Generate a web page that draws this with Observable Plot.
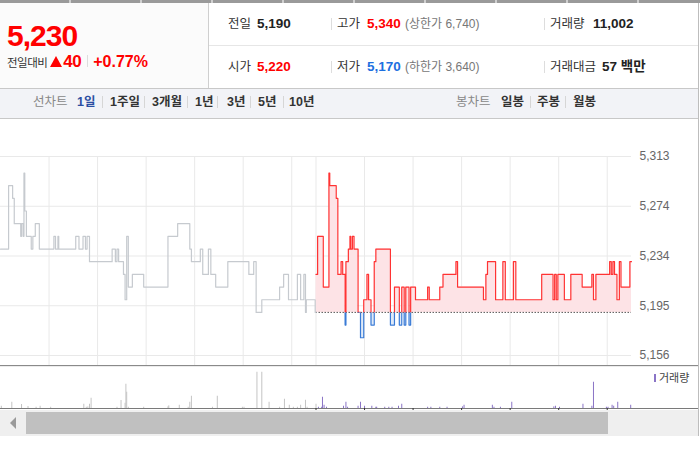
<!DOCTYPE html>
<html><head><meta charset="utf-8">
<script src="https://cdn.jsdelivr.net/npm/d3@7"></script>
<script src="https://cdn.jsdelivr.net/npm/@observablehq/plot@0.6"></script>
<style>
body{margin:0;background:#fff;font-family:"Liberation Sans","Noto Sans CJK KR",sans-serif;}
#w{position:relative;width:700px;height:450px;overflow:hidden;}
.a{position:absolute;white-space:nowrap;}
.r1{top:14px;height:20px;line-height:20px;}
.r2{top:57px;height:20px;line-height:20px;}
.lb{font-size:12.5px;color:#333;}
.nm{font-size:13.5px;font-weight:bold;color:#222;}
.lim{font-size:12px;color:#777;}
.sep{position:absolute;width:1px;background:#ddd;}
.nv{top:92px;height:20px;line-height:20px;font-size:12.5px;font-weight:bold;color:#333;}
.nsep{position:absolute;top:96px;height:12px;width:1px;background:#d6d6d6;}
</style></head><body><div id="w">
<!-- top strip -->
<div class="a" style="left:0;top:0;width:700px;height:3px;background:repeating-linear-gradient(90deg,#9a9a9a 0 69px,#cfcfcf 69px 71px);"></div>
<!-- header -->
<div class="a" style="left:0;top:3px;width:208px;height:85px;background:#fbfbfb;"></div>
<div class="a" style="left:208px;top:3px;width:1px;height:85px;background:#cfcfcf;"></div>
<div class="a" style="left:209px;top:45px;width:490px;height:1px;background:#e6e6e6;"></div>
<div class="a" style="left:0;top:88px;width:699px;height:1px;background:#c8c8c8;"></div>
<div class="a" style="left:7px;top:21px;font-size:30px;line-height:30px;font-weight:bold;color:#f00;letter-spacing:-1px;">5,230</div>
<div class="a" style="left:7px;top:52px;display:flex;align-items:baseline;">
  <span style="font-size:11.5px;color:#333;letter-spacing:-0.5px;">전일대비</span>
  <span style="display:inline-block;width:0;height:0;border-left:6px solid transparent;border-right:6px solid transparent;border-bottom:11px solid #f00;margin:0 1px 0 3px;"></span>
  <span style="font-size:17px;font-weight:bold;color:#f00;letter-spacing:-0.5px;">40</span>
  <span style="display:inline-block;width:1px;height:12px;background:#ddd;margin:0 5px 0 6px;"></span>
  <span style="font-size:16px;font-weight:bold;color:#f00;">+0.77%</span>
</div>
<span class="a r1 lb" style="left:228px;">전일</span>
<span class="a r1 nm" style="left:257px;">5,190</span>
<div class="sep" style="left:331px;top:18px;height:12px;"></div>
<span class="a r1 lb" style="left:337px;">고가</span>
<span class="a r1 nm" style="left:367px;color:#f00;">5,340</span>
<span class="a r1 lim" style="left:405px;">(상한가 6,740)</span>
<div class="sep" style="left:544px;top:18px;height:12px;"></div>
<span class="a r1 lb" style="left:550px;">거래량</span>
<span class="a r1 nm" style="left:593px;">11,002</span>
<span class="a r2 lb" style="left:228px;">시가</span>
<span class="a r2 nm" style="left:257px;color:#f00;">5,220</span>
<div class="sep" style="left:331px;top:61px;height:12px;"></div>
<span class="a r2 lb" style="left:337px;">저가</span>
<span class="a r2 nm" style="left:367px;color:#1d6fe0;">5,170</span>
<span class="a r2 lim" style="left:405px;">(하한가 3,640)</span>
<div class="sep" style="left:544px;top:61px;height:12px;"></div>
<span class="a r2 lb" style="left:550px;">거래대금</span>
<span class="a r2 nm" style="left:602px;">57 백만</span>
<!-- nav -->
<div class="a" style="left:0;top:89px;width:699px;height:29px;background:#f2f3f7;border-bottom:1px solid #c8c8c8;"></div>
<span class="a nv" style="left:33px;font-weight:normal;color:#888;">선차트</span>
<span class="a nv" style="left:77px;color:#2b4ea2;">1일</span>
<div class="nsep" style="left:102px;"></div>
<span class="a nv" style="left:110px;">1주일</span>
<div class="nsep" style="left:144px;"></div>
<span class="a nv" style="left:152px;">3개월</span>
<div class="nsep" style="left:187px;"></div>
<span class="a nv" style="left:195px;">1년</span>
<div class="nsep" style="left:217px;"></div>
<span class="a nv" style="left:227px;">3년</span>
<div class="nsep" style="left:250px;"></div>
<span class="a nv" style="left:258px;">5년</span>
<div class="nsep" style="left:283px;"></div>
<span class="a nv" style="left:289px;">10년</span>
<span class="a nv" style="left:456px;font-weight:normal;color:#888;">봉차트</span>
<span class="a nv" style="left:501px;">일봉</span>
<div class="nsep" style="left:530px;"></div>
<span class="a nv" style="left:537px;">주봉</span>
<div class="nsep" style="left:565px;"></div>
<span class="a nv" style="left:573px;">월봉</span>
<!-- chart holders -->
<div id="price" class="a" style="left:0;top:119px;"></div>
<div class="a" style="left:0;top:365px;width:699px;height:1px;background:#8a8a8a;"></div>
<div class="a" style="left:0;top:366px;width:699px;height:1px;background:#ececec;"></div>
<div id="vol" class="a" style="left:0;top:366px;"></div>
<div class="a" style="left:654px;top:374px;width:2px;height:8px;background:#8a74c6;"></div>
<span class="a" style="left:659px;top:370px;font-size:11px;line-height:16px;color:#444;">거래량</span>
<!-- scrollbar -->
<div class="a" style="left:0;top:410px;width:699px;height:26px;background:#efefef;"></div>
<div class="a" style="left:26px;top:412px;width:582px;height:22px;background:#c0c0c0;"></div>
<div class="a" style="left:10px;top:417px;width:0;height:0;border-top:6px solid transparent;border-bottom:6px solid transparent;border-right:6px solid #9a9a9a;"></div>
<div class="a" style="left:698px;top:3px;width:1px;height:433px;background:#bdbdbd;"></div>
</div>
<script>
// ---- data ----
const prevClose = 5190;
const prevTimes = ["09:00","09:10","09:15","09:17","09:25","09:26","09:28","09:29","09:30","09:32","09:38","09:40","09:43","09:48","10:06","10:08","10:11","10:12","10:33","10:37","10:42","10:45","10:47","10:50","11:18","11:22","11:24","11:26","11:32","11:34","11:36","11:38","11:43","11:57","12:27","12:39","12:54","12:56","13:07","13:10","13:17","13:20","13:26","13:41","14:07","14:13","14:16","14:23","14:45","14:50","14:56","15:07","15:11","15:15","15:17","15:18","15:29","15:30"];
const prevPrices = [5240,5290,5280,5260,5250,5260,5250,5300,5270,5250,5240,5250,5260,5240,5250,5240,5250,5240,5250,5240,5250,5240,5250,5230,5240,5230,5240,5230,5220,5200,5250,5210,5220,5210,5250,5260,5240,5230,5240,5220,5240,5220,5210,5230,5220,5230,5190,5200,5210,5220,5200,5220,5200,5220,5190,5200,5190,5190];
const todayTimes = ["09:00","09:02","09:09","09:16","09:17","09:25","09:27","09:31","09:33","09:36","09:37","09:40","09:42","09:43","09:45","09:47","09:52","09:55","09:59","10:03","10:05","10:08","10:12","10:14","10:32","10:37","10:43","10:46","10:49","10:51","10:55","10:57","11:03","11:18","11:20","11:33","11:37","11:53","11:55","12:27","12:30","12:32","12:42","12:51","12:54","13:04","13:07","13:39","13:53","13:55","13:57","13:59","14:07","14:15","14:29","14:41","14:43","14:46","15:03","15:05","15:07","15:09","15:12","15:15","15:17","15:28","15:30"];
const todayPrices = [5220,5250,5210,5300,5290,5280,5220,5230,5220,5180,5230,5240,5250,5240,5250,5240,5190,5170,5200,5220,5200,5180,5230,5240,5180,5210,5180,5210,5180,5210,5180,5210,5200,5210,5200,5210,5220,5230,5210,5200,5220,5230,5200,5230,5200,5230,5200,5220,5200,5220,5200,5220,5200,5220,5210,5220,5200,5220,5230,5220,5230,5220,5200,5230,5210,5230,5230];
const prevVolTimes = ["09:01","09:14","09:26","09:34","09:44","09:49","10:02","10:43","10:46","10:48","10:50","10:52","11:24","11:29","11:34","11:35","11:36","11:38","11:57","12:27","12:28","12:41","12:52","12:54","12:56","13:22","13:28","13:59","14:01","14:17","14:23","14:32","14:45","14:51","14:57","15:02","15:07","15:11","15:17","15:19","15:30"];
const prevVols = [180,500,320,160,100,180,100,340,100,130,340,820,100,640,420,1940,1300,100,100,130,210,260,100,500,980,100,980,100,100,2900,2900,500,100,740,260,100,100,260,660,100,340];
const todayVolTimes = ["09:03","09:07","09:08","09:10","09:13","09:34","09:37","09:39","09:52","09:55","10:00","10:09","10:14","10:15","10:25","10:30","10:34","10:42","10:46","11:18","11:22","11:33","11:42","12:01","12:03","12:38","12:40","12:48","13:02","13:54","13:56","14:01","14:30","14:41","14:43","14:59","15:01","15:06","15:08","15:13","15:29"];
const todayVols = [100,100,900,260,100,180,500,100,180,500,180,180,100,100,100,100,100,180,340,100,100,100,100,130,260,260,100,100,500,130,180,100,340,180,2100,100,100,260,180,500,260];
const yTicks = [5156, 5195.25, 5234.5, 5273.75, 5313];
const yTickLabels = ["5,156","5,195","5,234","5,274","5,313"];
const prevGridTimes = ["10:00","11:00","12:00","13:00","14:00","15:00"];
const todayGridTimes = ["09:00","10:00","11:00","12:00","13:00","14:00","15:00"];

// ---- build ----
const SESSION = 390;
function toMin(t, day){const [h,m]=t.split(":").map(Number);return h*60+m-540+day*SESSION;}
const prev = prevTimes.map((t,i)=>({m:toMin(t,0),p:prevPrices[i]}));
const today = todayTimes.map((t,i)=>({m:toMin(t,1),p:todayPrices[i]}));
const grid = [...prevGridTimes.map(t=>toMin(t,0)), ...todayGridTimes.map(t=>toMin(t,1))];
const todayGrid = todayGridTimes.map(t=>toMin(t,1));
const labels = yTicks.map((v,i)=>({v, label:yTickLabels[i]}));
const prevVol = prevVolTimes.map((t,i)=>({m:toMin(t,0),v:prevVols[i]}));
const todayVol = todayVolTimes.map((t,i)=>({m:toMin(t,1),v:todayVols[i]}));
const W = 699, MR = 68, XD = [0, 2*SESSION];
const font = '"Liberation Sans","DejaVu Sans",sans-serif';

const H = 246;
const price = Plot.plot({
  width: W, height: H, marginTop: 37, marginBottom: 10, marginLeft: 0, marginRight: MR,
  style: {fontFamily: font, background: "transparent", overflow: "visible"},
  x: {domain: XD, axis: null},
  y: {domain: [5156, 5313], axis: null},
  marks: [
    Plot.ruleY(yTicks, {stroke: "#e9e9e9"}),
    Plot.ruleX(grid, {stroke: "#e9e9e9", insetBottom: -10}),
    Plot.areaY(today, {x: "m", y1: prevClose, y2: d => Math.max(d.p, prevClose), curve: "step-after", fill: "#fde3e6"}),
    Plot.areaY(today, {x: "m", y1: prevClose, y2: d => Math.min(d.p, prevClose), curve: "step-after", fill: "#dfeaf8"}),
    Plot.ruleY([prevClose], {x1: SESSION, x2: 2*SESSION, stroke: "#555", strokeDasharray: "1.5,1.5"}),
    Plot.line(prev, {x: "m", y: "p", curve: "step-after", stroke: "#c6cacf", strokeWidth: 1.2}),
    Plot.line(today, {x: "m", y: "p", curve: "step-after", stroke: "#ff3333", strokeWidth: 1.2}),
    Plot.line(today, {x: "m", y: "p", curve: "step-after", stroke: "#3a7bd6", strokeWidth: 1.2}),
    Plot.text(labels, {x: () => XD[1], y: "v", text: "label", dx: 8, textAnchor: "start", fill: "#666", fontSize: 12})
  ]
});
document.getElementById("price").appendChild(price);
// colour the today line red above / blue below the previous close
{
  const y0 = price.scale("y").apply(prevClose);
  const svg = d3.select(price);
  const defs = svg.insert("defs", ":first-child");
  defs.append("clipPath").attr("id", "clipUp").append("rect").attr("x", -5).attr("y", -5).attr("width", W + 10).attr("height", y0 + 5);
  defs.append("clipPath").attr("id", "clipDn").append("rect").attr("x", -5).attr("y", y0).attr("width", W + 10).attr("height", H - y0 + 5);
  const lines = price.querySelectorAll('g[aria-label="line"]');
  lines[1].setAttribute("clip-path", "url(#clipUp)");
  lines[2].setAttribute("clip-path", "url(#clipDn)");
}

const vol = Plot.plot({
  width: W, height: 44, marginTop: 2, marginBottom: 2, marginLeft: 0, marginRight: MR,
  style: {background: "transparent", overflow: "visible"},
  x: {domain: XD, axis: null},
  y: {domain: [0, 3200], axis: null},
  marks: [
    Plot.ruleX(prevVol, {x: "m", y1: 0, y2: "v", stroke: "#c4c4c4"}),
    Plot.ruleX(todayVol, {x: "m", y1: 0, y2: "v", stroke: "#8a74c6"}),
    Plot.ruleY([0], {stroke: "#7a7a7a", insetRight: -MR}),
    Plot.ruleX(todayGrid, {stroke: "#333", insetTop: 40, insetBottom: -3})
  ]
});
document.getElementById("vol").appendChild(vol);
</script>
</body></html>
